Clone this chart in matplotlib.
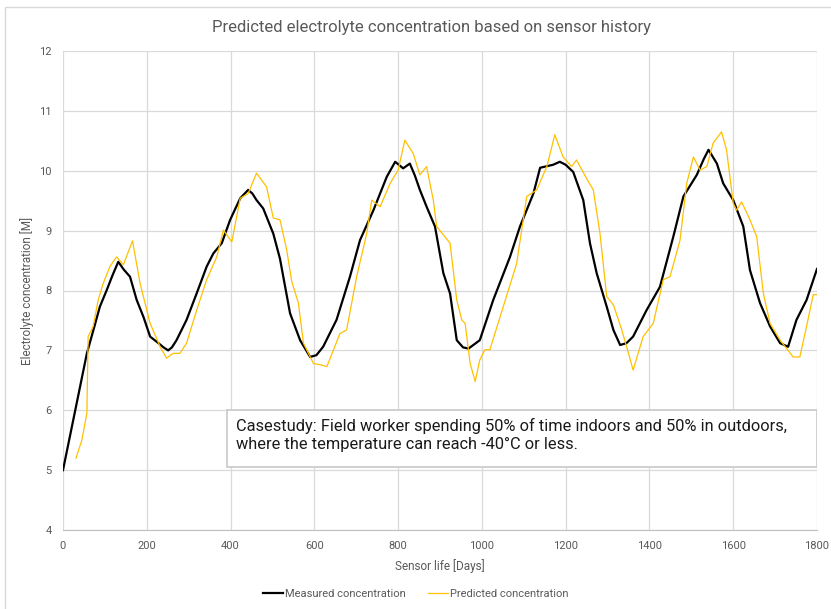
import matplotlib
matplotlib.use("Agg")
import matplotlib.pyplot as plt
from matplotlib.patches import Rectangle

plt.rcParams['font.family'] = ['Roboto', 'DejaVu Sans']

# Measured concentration
measured_days = [0, 57, 75, 88, 104, 118, 132, 145, 160, 176, 192, 208, 228, 240, 251, 260,
                 271, 295, 319, 343, 359, 379, 399, 423, 442, 452, 462, 478, 502, 518, 542,
                 566, 590, 605, 621, 653, 685, 709, 741, 773, 793, 812, 828, 840, 852, 868,
                 888, 908, 924, 940, 955, 968, 995, 1027, 1067, 1091, 1123, 1139, 1170,
                 1186, 1200, 1218, 1242, 1258, 1274, 1298, 1314, 1330, 1345, 1361, 1393,
                 1425, 1457, 1481, 1513, 1530, 1541, 1561, 1576, 1600, 1624, 1640, 1664,
                 1688, 1712, 1731, 1751, 1775, 1800]
measured_vals = [5.0, 6.95, 7.40, 7.73, 8.0, 8.25, 8.48, 8.35, 8.23, 7.84, 7.56, 7.23, 7.12,
                 7.05, 7.0, 7.05, 7.17, 7.51, 7.95, 8.40, 8.62, 8.79, 9.18, 9.54, 9.68,
                 9.62, 9.51, 9.37, 8.95, 8.53, 7.62, 7.17, 6.89, 6.92, 7.06, 7.51, 8.23,
                 8.84, 9.34, 9.90, 10.15, 10.04, 10.12, 9.92, 9.68, 9.40, 9.07, 8.29, 7.95,
                 7.17, 7.05, 7.03, 7.17, 7.84, 8.56, 9.07, 9.62, 10.05, 10.10, 10.15,
                 10.10, 9.98, 9.51, 8.79, 8.29, 7.73, 7.34, 7.09, 7.12, 7.23, 7.67, 8.06,
                 8.90, 9.57, 9.93, 10.20, 10.35, 10.12, 9.79, 9.51, 9.07, 8.34, 7.79, 7.40,
                 7.12, 7.06, 7.51, 7.84, 8.36]

# Predicted concentration
predicted_days = [31, 45, 57, 60, 72, 84, 96, 112, 128, 144, 166, 184, 208, 232, 247, 263,
                  279, 295, 319, 343, 367, 383, 403, 423, 442, 462, 486, 502, 518, 534,
                  546, 562, 574, 598, 614, 630, 661, 677, 701, 725, 737, 757, 781, 800,
                  816, 836, 852, 868, 884, 892, 924, 940, 952, 960, 972, 984, 995, 1007,
                  1019, 1051, 1083, 1107, 1131, 1155, 1174, 1194, 1214, 1226, 1250, 1266,
                  1282, 1298, 1314, 1334, 1350, 1361, 1385, 1409, 1433, 1449, 1473, 1489,
                  1505, 1521, 1537, 1552, 1572, 1584, 1600, 1608, 1620, 1640, 1656, 1672,
                  1688, 1712, 1743, 1759, 1775, 1791, 1800]
predicted_vals = [5.2, 5.5, 5.95, 7.23, 7.4, 7.84, 8.12, 8.40, 8.56, 8.43, 8.83, 8.12, 7.45,
                  7.06, 6.87, 6.95, 6.95, 7.12, 7.67, 8.18, 8.56, 9.01, 8.81, 9.54, 9.62,
                  9.96, 9.73, 9.21, 9.18, 8.68, 8.15, 7.79, 7.12, 6.78, 6.76, 6.73, 7.28,
                  7.34, 8.23, 8.95, 9.51, 9.40, 9.79, 10.01, 10.51, 10.29, 9.93, 10.07,
                  9.51, 9.07, 8.79, 7.84, 7.51, 7.45, 6.78, 6.48, 6.84, 7.01, 7.01, 7.73,
                  8.45, 9.57, 9.68, 10.07, 10.60, 10.23, 10.07, 10.18, 9.87, 9.68, 8.95,
                  7.90, 7.76, 7.34, 6.95, 6.67, 7.23, 7.45, 8.18, 8.23, 8.84, 9.79, 10.23,
                  10.01, 10.07, 10.46, 10.65, 10.35, 9.46, 9.34, 9.48, 9.18, 8.90, 7.95,
                  7.45, 7.17, 6.89, 6.89, 7.40, 7.93, 7.93]

x_ticks = [0, 200, 400, 600, 800, 1000, 1200, 1400, 1600, 1800]
y_ticks = [4, 5, 6, 7, 8, 9, 10, 11, 12]

fig = plt.figure(figsize=(8.31, 6.09), dpi=100)
ax = fig.add_axes([63 / 831, 1 - 530 / 609, 754 / 831, 479 / 609])

# outer chart frame
fig.patches.append(Rectangle((5 / 831, -0.01), 1.0, 1 - 7 / 609 + 0.01,
                             transform=fig.transFigure, fill=False,
                             edgecolor='#d9d9d9', linewidth=1))

ax.plot(measured_days, measured_vals, color='black', linewidth=1.6,
        label='Measured concentration', zorder=3)
ax.plot(predicted_days, predicted_vals, color='#FFC000', linewidth=0.9,
        label='Predicted concentration', zorder=4)

ax.set_xlim(0, 1800)
ax.set_ylim(4, 12)
ax.set_xticks(x_ticks)
ax.set_yticks(y_ticks)
ax.grid(True, color='#d9d9d9', linewidth=0.9)
ax.set_axisbelow(True)
for s in ['top', 'right', 'left']:
    ax.spines[s].set_visible(False)
ax.spines['bottom'].set_color('#bfbfbf')
ax.tick_params(length=0, colors='#595959', labelsize=8, pad=8)

ax.set_title('Predicted electrolyte concentration based on sensor history',
             fontsize=12, color='#595959', pad=14, x=0.489)
ax.set_xlabel('Sensor life [Days]', fontsize=8.5, color='#595959', labelpad=6)
ax.set_ylabel('Electrolyte concentration [M]', fontsize=8.5, color='#595959', labelpad=4)

# annotation box
box = Rectangle((164 / 754, 63 / 479), 590 / 754, 57 / 479, transform=ax.transAxes,
                facecolor='white', edgecolor='#c8c8c8', linewidth=1.2, zorder=6)
ax.add_patch(box)
ax.text(173 / 754, 112 / 479,
        'Casestudy: Field worker spending 50% of time indoors and 50% in outdoors,\n'
        'where the temperature can reach -40°C or less.',
        transform=ax.transAxes, fontsize=11.8, color='#1a1a1a', va='top', ha='left',
        linespacing=1.25, zorder=7)

fig.legend(loc='center', bbox_to_anchor=(0.5, 1 - 594 / 609), ncol=2, frameon=False,
           fontsize=8, labelcolor='#595959', handlelength=1.8, columnspacing=2.0,
           handletextpad=0.2)

fig.savefig('out.png', dpi=100)
